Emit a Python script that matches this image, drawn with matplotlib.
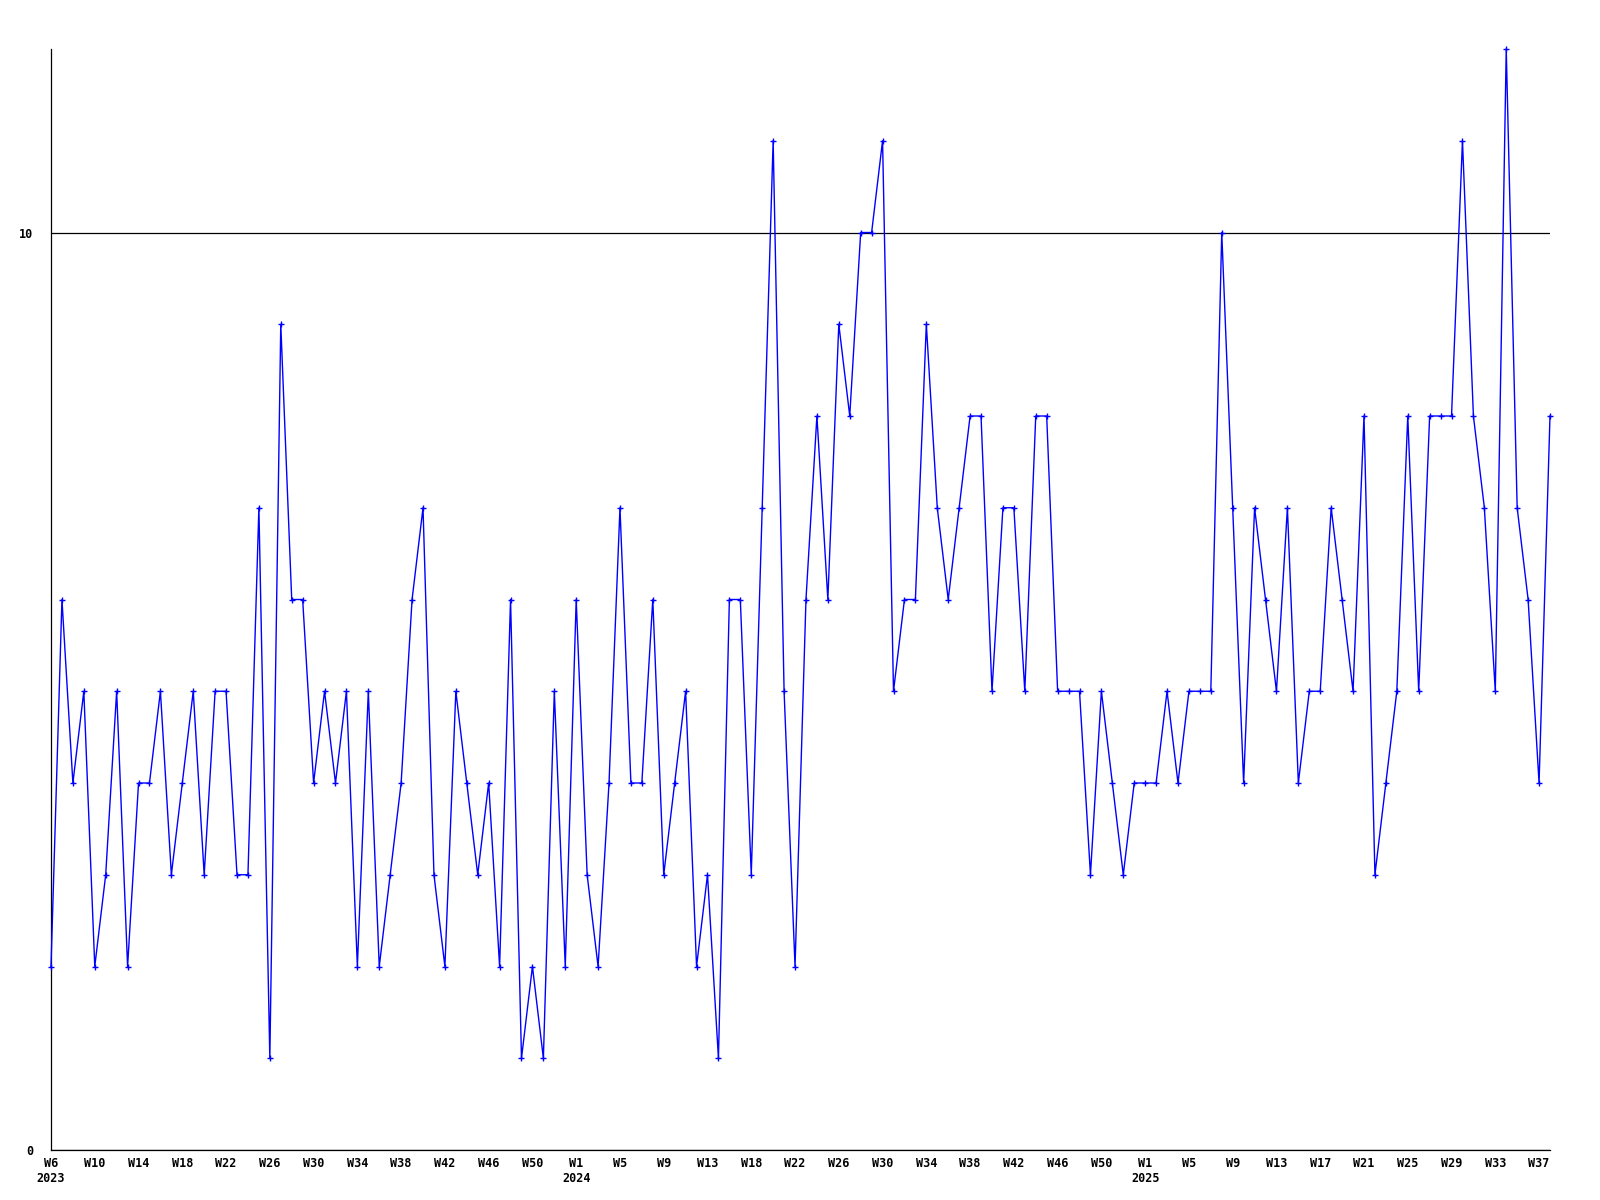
import matplotlib
matplotlib.use("Agg")
import matplotlib.pyplot as plt
import numpy as np

# weekly counts, 2023 W6 .. 2025 W38
values = [
    2, 6, 4, 5, 2, 3, 5, 2, 4, 4, 5, 3, 4, 5, 3, 5, 5, 3, 3, 7,
    1, 9, 6, 6, 4, 5, 4, 5, 2, 5, 2, 3, 4, 6, 7, 3, 2, 5, 4, 3,
    4, 2, 6, 1, 2, 1, 5, 2, 6, 3, 2, 4, 7, 4, 4, 6, 3, 4, 5, 2,
    3, 1, 6, 6, 3, 7, 11, 5, 2, 6, 8, 6, 9, 8, 10, 10, 11, 5, 6, 6,
    9, 7, 6, 7, 8, 8, 5, 7, 7, 5, 8, 8, 5, 5, 5, 3, 5, 4, 3, 4,
    4, 4, 5, 4, 5, 5, 5, 10, 7, 4, 7, 6, 5, 7, 4, 5, 5, 7, 6, 5,
    8, 3, 4, 5, 8, 5, 8, 8, 8, 11, 8, 7, 5, 12, 7, 6, 4, 8,
]

# one label every 4th week
week_labels = [
    "W6\n2023", "W10", "W14", "W18", "W22", "W26", "W30", "W34", "W38", "W42", "W46", "W50",
    "W1\n2024", "W5", "W9", "W13", "W18", "W22", "W26", "W30", "W34", "W38", "W42", "W46", "W50",
    "W1\n2025", "W5", "W9", "W13", "W17", "W21", "W25", "W29", "W33", "W37",
]
label_step = 4

y_ticks = [0, 10]

x = np.arange(len(values))

fig = plt.figure(figsize=(16, 12), dpi=100)
ax = fig.add_axes([51 / 1600, 1 - 1150 / 1200, 1499 / 1600, 1101 / 1200])

ax.plot(x, values, color="#0000ff", lw=1.0, marker="+", ms=4, mew=1.0,
        clip_on=False, zorder=3)

ax.set_xlim(0, len(values) - 1)
ax.set_ylim(0, 12)

ax.set_yticks(y_ticks)
ax.set_yticklabels([str(v) for v in y_ticks])
ax.yaxis.grid(True, color="black", lw=0.9)
ax.set_axisbelow(True)

ax.set_xticks(x[::label_step][:len(week_labels)])
ax.set_xticklabels(week_labels, linespacing=1.25)

for lab in ax.get_xticklabels() + ax.get_yticklabels():
    lab.set_fontfamily("DejaVu Sans Mono")
    lab.set_fontweight("bold")
    lab.set_fontsize(8.5)

ax.tick_params(axis="x", length=0, pad=5)
ax.tick_params(axis="y", length=0, pad=13)

for side in ["top", "right"]:
    ax.spines[side].set_visible(False)
for side in ["left", "bottom"]:
    ax.spines[side].set_color("black")
    ax.spines[side].set_linewidth(0.9)

fig.savefig("out.png", dpi=100, facecolor="white")
